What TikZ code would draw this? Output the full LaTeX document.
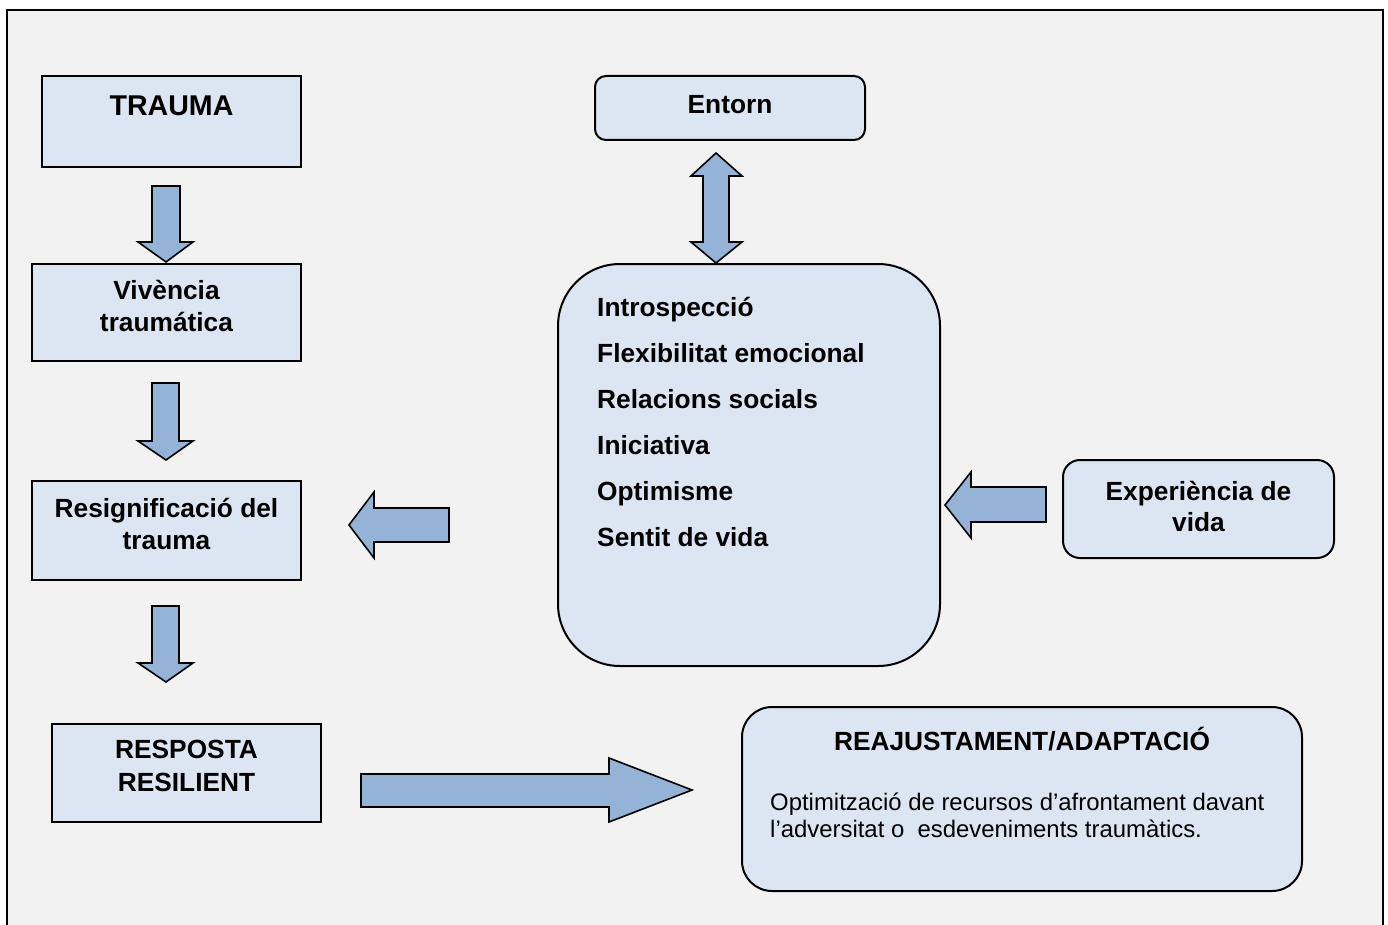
\documentclass[tikz,border=0pt]{standalone}
\usepackage{fontspec}
\setmainfont{Liberation Sans}
\definecolor{boxfill}{HTML}{DCE6F2}
\definecolor{arrfill}{HTML}{95B3D7}
\definecolor{bgfill}{HTML}{F2F2F2}
\begin{document}
\begin{tikzpicture}[x=1pt,y=-1pt,
  box/.style={draw=black, line width=2pt, fill=boxfill, inner sep=0pt},
  blockarrow/.style={draw=black, line width=1.6pt, fill=arrfill, line join=miter},
  bt/.style={font=\fontsize{26.3}{32}\selectfont\bfseries, anchor=base, inner sep=0pt},
  btl/.style={font=\fontsize{26.3}{32}\selectfont\bfseries, anchor=base west, inner sep=0pt},
  rt/.style={font=\fontsize{23.9}{28}\selectfont, anchor=base west, inner sep=0pt}]
\useasboundingbox (0,0) rectangle (1388,925);
\draw[line width=2pt, fill=bgfill] (7,10) rectangle (1383,945);

% left column boxes
\node[box, minimum width=259pt, minimum height=91pt] (trauma) at (171.5,121.5) {};
\node[bt, font=\fontsize{28.6}{34}\selectfont\bfseries] (ttrauma) at (171.5,116) {TRAUMA};

\node[box, minimum width=269pt, minimum height=97pt] (viv) at (166.5,312.5) {};
\node[bt] (tviv1) at (166.5,299) {Vivència};
\node[bt] (tviv2) at (166.5,331) {traumática};

\node[box, minimum width=269pt, minimum height=99pt] (resig) at (166.5,530.5) {};
\node[bt] (tres1) at (166.5,517) {Resignificació del};
\node[bt] (tres2) at (166.5,549) {trauma};

\node[box, minimum width=269pt, minimum height=98pt] (resp) at (186.5,773) {};
\node[bt] (tresp1) at (186.5,758) {RESPOSTA};
\node[bt] (tresp2) at (186.5,791) {RESILIENT};

% right side boxes
\node[box, rounded corners=11pt, minimum width=270pt, minimum height=64pt] (entorn) at (730,108) {};
\node[bt] (tentorn) at (730,114) {Entorn};

\node[box, rounded corners=62pt, minimum width=382pt, minimum height=402pt] (factors) at (749,465) {};
\node[btl] (f1) at (597,316) {Introspecció};
\node[btl] (f2) at (597,362) {Flexibilitat emocional};
\node[btl] (f3) at (597,408) {Relacions socials};
\node[btl] (f4) at (597,454) {Iniciativa};
\node[btl] (f5) at (597,500) {Optimisme};
\node[btl] (f6) at (597,546) {Sentit de vida};

\node[box, rounded corners=17pt, minimum width=271pt, minimum height=98pt] (exp) at (1198.5,509) {};
\node[bt] (texp1) at (1198.5,500) {Experiència de};
\node[bt] (texp2) at (1198.5,531) {vida};

\node[box, rounded corners=30pt, minimum width=560pt, minimum height=184pt] (reaj) at (1022,799) {};
\node[bt] (treaj) at (1022,750) {REAJUSTAMENT/ADAPTACIÓ};
\node[rt] (treaj1) at (770,810) {Optimització de recursos d’afrontament davant};
\node[rt] (treaj2) at (770,837) {l’adversitat o\ \ esdeveniments traumàtics.};

% block arrows
\draw[blockarrow] (152,186) -- (180,186) -- (180,242) -- (193,242) -- (166,262) -- (138,242) -- (152,242) -- cycle;
\draw[blockarrow] (152,383) -- (179,383) -- (179,441) -- (193,441) -- (166,460) -- (138,441) -- (152,441) -- cycle;
\draw[blockarrow] (152,606) -- (179,606) -- (179,663) -- (193,663) -- (166,682) -- (138,663) -- (152,663) -- cycle;

\draw[blockarrow] (449,508) -- (374,508) -- (374,492) -- (349,525) -- (374,558) -- (374,542) -- (449,542) -- cycle;
\draw[blockarrow] (1046,487) -- (971,487) -- (971,472) -- (945,505) -- (971,538) -- (971,522) -- (1046,522) -- cycle;

\draw[blockarrow] (716,153) -- (742,176) -- (729,176) -- (729,242) -- (742,242) -- (716,263) -- (691,242) -- (703,242) -- (703,176) -- (691,176) -- cycle;

\draw[blockarrow] (361,774) -- (609,774) -- (609,758) -- (692,790) -- (609,822) -- (609,807) -- (361,807) -- cycle;
\end{tikzpicture}
\end{document}
